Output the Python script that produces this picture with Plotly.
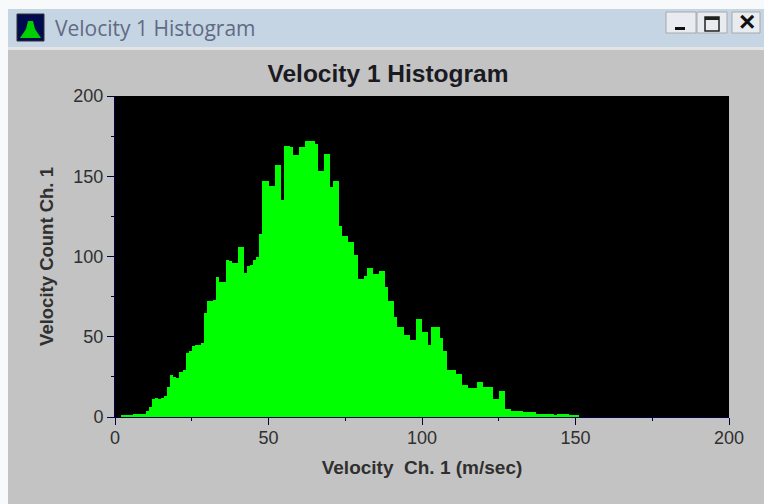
import plotly.graph_objects as go

WINDOW_TITLE = "Velocity 1 Histogram"
CHART_TITLE = "Velocity 1 Histogram"
X_TITLE = "Velocity  Ch. 1 (m/sec)"
Y_TITLE = "Velocity Count Ch. 1"

# One count per 1 m/sec bin, starting at bin 0
counts_0_49 = [0, 0, 1, 1, 1, 1, 2, 2, 2, 2, 4, 6, 11, 12, 11, 12, 13, 19, 26, 25,
               24, 28, 29, 40, 41, 44, 45, 45, 46, 65, 72, 72, 73, 87, 84, 84, 98, 97, 96, 96,
               106, 106, 90, 94, 95, 98, 100, 114, 147, 147]
counts_50_99 = [144, 144, 157, 157, 135, 169, 169, 168, 163, 163, 168, 168, 172, 172, 172, 170, 153, 153, 164, 164,
                143, 147, 147, 119, 113, 113, 109, 109, 101, 86, 86, 88, 93, 93, 89, 89, 91, 91, 81, 72,
                72, 62, 56, 56, 51, 51, 48, 48, 61, 61]
counts_100_151 = [53, 53, 45, 56, 56, 56, 49, 41, 29, 29, 29, 27, 27, 20, 20, 18, 18, 18, 22, 22,
                  19, 19, 19, 11, 11, 16, 16, 5, 5, 4, 4, 4, 4, 3, 3, 3, 3, 2, 2, 2,
                  2, 2, 2, 1, 2, 2, 2, 2, 1, 1, 1, 0]
counts = counts_0_49 + counts_50_99 + counts_100_151
bin_left = list(range(len(counts)))

L, R, T, B = 115, 729, 96, 417
W, H = 764, 504


def px(v):
    return (v - L) / (R - L)


def py(v):
    return (B - v) / (B - T)


def rect(x0, y0, x1, y1, fill, line=None, lw=0):
    return dict(type="rect", xref="paper", yref="paper", x0=px(x0), x1=px(x1), y0=py(y0), y1=py(y1),
                fillcolor=fill, line=dict(color=line or fill, width=lw), layer="below")


shapes = [
    rect(0, 0, W, H, "#f7f9fb"),
    rect(8, 9, W, 47, "#c6d5e3"),
    rect(8, 47, W, 50, "#e4e4e4"),
    rect(8, 50, W, H, "#c3c3c3"),
    # window icon
    rect(17, 14, 44, 41, "#000a50", "#303030", 1),
    dict(type="path", xref="paper", yref="paper", layer="below", fillcolor="#00d000", line=dict(width=0),
         path=f"M {px(20)} {py(38)} L {px(26)} {py(29)} L {px(28)} {py(21)} L {px(33)} {py(21)} "
              f"L {px(35)} {py(29)} L {px(41)} {py(38)} Z"),
    # caption buttons
    rect(666, 12, 696, 33, "#e8ecf0", "#a8a8a8", 1),
    rect(697, 12, 727, 33, "#e8ecf0", "#a8a8a8", 1),
    rect(732, 12, 760, 33, "#e8ecf0", "#a8a8a8", 1),
    rect(675, 27, 685, 30, "#101010"),
    rect(705, 17, 719, 31, "rgba(0,0,0,0)", "#202020", 1.5),
    rect(705, 17, 719, 20, "#202020"),
    # plot background, above the window chrome
    rect(L, T, R, B, "#000000"),
]

annotations = [
    dict(text=WINDOW_TITLE, xref="paper", yref="paper", x=px(53), y=py(28), xanchor="left", yanchor="middle",
         showarrow=False, font=dict(family="Open Sans", size=21, color="#616a85")),
    dict(text="<b>×</b>", xref="paper", yref="paper", x=px(747), y=py(22), xanchor="center", yanchor="middle",
         showarrow=False, font=dict(family="Liberation Sans", size=28, color="#101010")),
]

fig = go.Figure(go.Bar(x=bin_left, y=counts, width=1, offset=0, marker=dict(color="#00ff00", line=dict(width=0))))

axis_common = dict(range=[0, 200], dtick=50, ticks="outside", ticklen=7, tickwidth=1, tickcolor="#000040",
                   showline=True, linecolor="#000040", linewidth=1, showgrid=False, zeroline=False,
                   tickfont=dict(family="Liberation Sans", size=18, color="#303030"),
                   minor=dict(dtick=25, ticks="outside", ticklen=3, tickcolor="#000040", showgrid=False))

fig.update_layout(
    width=W, height=H, autosize=False, bargap=0, showlegend=False,
    margin=dict(l=L, r=W - R, t=T, b=H - B, pad=0),
    paper_bgcolor="#c3c3c3", plot_bgcolor="#000000",
    title=dict(text=f"<b>{CHART_TITLE}</b>", x=388 / W, xanchor="center", y=1 - 73 / H, yanchor="middle",
               font=dict(family="Liberation Sans", size=24.5, color="#1a1a22")),
    shapes=shapes, annotations=annotations,
    xaxis=dict(**axis_common, ticklabelstandoff=-3,
               title=dict(text=f"<b>{X_TITLE}</b>", standoff=14,
                          font=dict(family="Liberation Sans", size=19, color="#303030"))),
    yaxis=dict(**axis_common, title=dict(text=f"<b>{Y_TITLE}</b>", standoff=14,
                                         font=dict(family="Liberation Sans", size=18.5, color="#303030"))),
)

fig.write_html("out.html", config=dict(displayModeBar=False),
               post_script="document.body.style.margin='0';document.body.style.overflow='hidden';")
